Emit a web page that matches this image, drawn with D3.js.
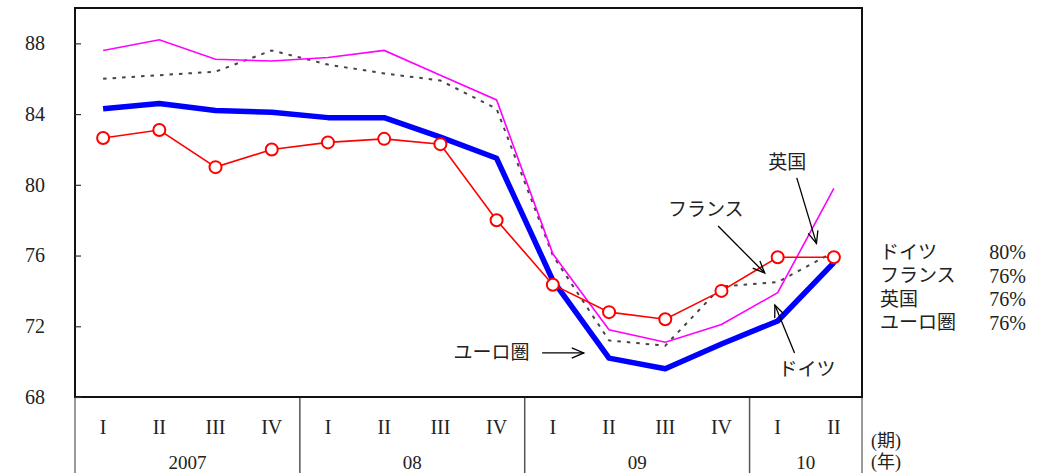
<!DOCTYPE html>
<html><head><meta charset="utf-8">
<script src="https://cdn.jsdelivr.net/npm/d3@7"></script>
<style>
body{margin:0;background:#fff;}
text{font-family:"Liberation Serif","Noto Sans CJK JP",serif;fill:#222;}
</style></head>
<body><svg id="c" width="1040" height="473"></svg>
<script>
const quarters = ["I","II","III","IV","I","II","III","IV","I","II","III","IV","I","II"];
const years = ["2007","08","09","10"];
const yearCounts = [4,4,4,2];
const yTicks = [68,72,76,80,84,88];
const germany = [84.3,84.6,84.2,84.1,83.8,83.8,82.7,81.5,74.6,70.2,69.6,71.0,72.3,75.6];
const france  = [82.65,83.1,81.0,82.0,82.4,82.6,82.3,78.0,74.35,72.8,72.4,74.0,75.9,75.9];
const uk      = [87.6,88.2,87.1,87.0,87.2,87.6,86.2,84.8,76.1,71.8,71.1,72.1,73.9,79.8];
const euro    = [86.0,86.2,86.4,87.6,86.8,86.3,85.9,84.3,76.0,71.2,70.9,74.25,74.5,76.2];
const legendNames = ["ドイツ","フランス","英国","ユーロ圏"];
const legendValues = ["80%","76%","76%","76%"];
// annotations in data coordinates (quarter index, value)
const annotations = [
  {label:"英国", tx:12.17, ty:81.29, from:[12.34,80.39], to:[12.69,76.69]},
  {label:"フランス", tx:10.72, ty:78.58, from:[10.94,77.67], to:[11.77,75.01]},
  {label:"ドイツ", tx:12.52, ty:69.53, from:[12.30,70.49], to:[11.95,73.2]},
  {label:"ユーロ圏", tx:6.91, ty:70.49, from:[7.81,70.49], to:[8.55,70.49]}
];

const L=75, R=862, T=8, B=397;
const svg = d3.select("#c");
const xb = d3.scaleBand().domain(d3.range(quarters.length)).range([L,R]).padding(0);
const bw = xb.bandwidth();
const xc = i => L + (i+0.5)*bw;
const y = d3.scaleLinear().domain([68,90]).range([B,T]);

// below-axis grid lines (gray)
let cum = 0;
const dividers = [0];
yearCounts.forEach(c=>{cum+=c; dividers.push(cum);});
svg.selectAll(".div").data(dividers).enter().append("line")
  .attr("x1",d=>L+d*bw).attr("x2",d=>L+d*bw).attr("y1",B).attr("y2",473)
  .attr("stroke",(d,i)=> (i==0||i==dividers.length-1)?"#777":"#555").attr("stroke-width",1.5);

// frame
svg.append("rect").attr("x",L).attr("y",T).attr("width",R-L).attr("height",B-T)
  .attr("fill","none").attr("stroke","#111").attr("stroke-width",2);

// y axis
const ya = d3.axisLeft(y).tickValues(yTicks).tickSize(-6).tickPadding(30).tickFormat(d3.format("d"));
const gy = svg.append("g").attr("transform",`translate(${L},0)`).call(ya);
gy.select(".domain").remove();
gy.selectAll("line").attr("stroke","#333").attr("stroke-width",1.2);
gy.selectAll("text").attr("font-size",20).style("font-family","Liberation Serif").attr("fill","#222");

// lines
const line = arr => d3.line().x((d,i)=>xc(i)).y(d=>y(d))(arr);
svg.append("path").attr("d",line(euro)).attr("fill","none").attr("stroke","#444")
  .attr("stroke-width",2).attr("stroke-dasharray","3.5,6");
svg.append("path").attr("d",line(uk)).attr("fill","none").attr("stroke","#ff00ff").attr("stroke-width",1.6);
svg.append("path").attr("d",line(germany)).attr("fill","none").attr("stroke","#0000ff").attr("stroke-width",5.5).attr("stroke-linejoin","round");
svg.append("path").attr("d",line(france)).attr("fill","none").attr("stroke","#ff0000").attr("stroke-width",1.6);
svg.selectAll(".fc").data(france).enter().append("circle")
  .attr("cx",(d,i)=>xc(i)).attr("cy",d=>y(d)).attr("r",6)
  .attr("fill","#fff").attr("stroke","#ff0000").attr("stroke-width",2);

// annotations
function arrow(x1,y1,x2,y2){
  const g = svg.append("g");
  g.append("line").attr("x1",x1).attr("y1",y1).attr("x2",x2).attr("y2",y2).attr("stroke","#000").attr("stroke-width",1.3);
  const a = Math.atan2(y2-y1,x2-x1), h=13, s=0.4;
  const p1=[x2-h*Math.cos(a-s), y2-h*Math.sin(a-s)];
  const p2=[x2-h*Math.cos(a+s), y2-h*Math.sin(a+s)];
  g.append("path").attr("d",`M${p1}L${x2},${y2}L${p2}`).attr("fill","none").attr("stroke","#000").attr("stroke-width",1.3);
}
annotations.forEach(a=>{
  svg.append("text").attr("x",xc(a.tx)).attr("y",y(a.ty)).attr("text-anchor","middle")
    .attr("dominant-baseline","central").attr("font-size",19).text(a.label);
  arrow(xc(a.from[0]),y(a.from[1]),xc(a.to[0]),y(a.to[1]));
});

// legend
legendNames.forEach((n,i)=>{
  const yy = 252 + i*23.6;
  svg.append("text").attr("x",880).attr("y",yy).attr("dominant-baseline","central").attr("font-size",19).text(n);
  svg.append("text").attr("x",1026).attr("y",yy).attr("text-anchor","end").attr("dominant-baseline","central").attr("font-size",20).text(legendValues[i]);
});

// x labels
svg.selectAll(".q").data(quarters).enter().append("text")
  .attr("x",(d,i)=>xc(i)).attr("y",427).attr("text-anchor","middle").attr("dominant-baseline","central")
  .attr("font-size",20).text(d=>d);
svg.selectAll(".yr").data(years).enter().append("text")
  .attr("x",(d,i)=>L+(dividers[i]+dividers[i+1])/2*bw).attr("y",462).attr("text-anchor","middle").attr("dominant-baseline","central")
  .attr("font-size",19).text(d=>d);
svg.append("text").attr("x",871).attr("y",441).attr("dominant-baseline","central").attr("font-size",18).text("(期)");
svg.append("text").attr("x",871).attr("y",462).attr("dominant-baseline","central").attr("font-size",18).text("(年)");
</script></body></html>
